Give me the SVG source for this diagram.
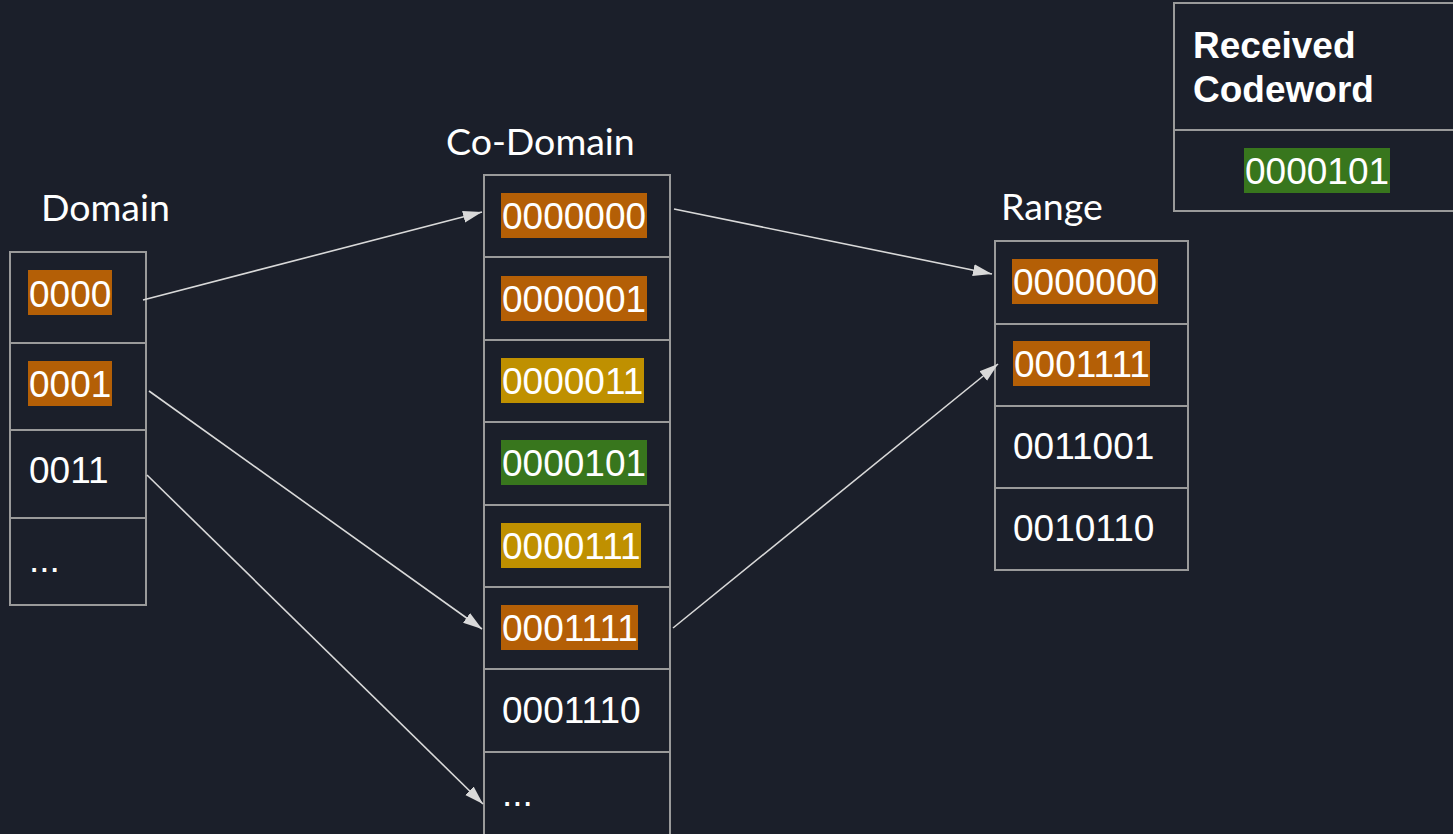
<svg xmlns="http://www.w3.org/2000/svg" width="1453" height="834" viewBox="0 0 1453 834">
<style>
.bg{fill:#1b1f2a}
.cell{fill:none;stroke:#9a9a9a;stroke-width:2}
.lbl{font-family:Lato,"Liberation Sans",sans-serif;font-size:37.5px;fill:#ffffff}
.val{font-family:"Liberation Sans",sans-serif;font-size:37px;fill:#ffffff}
.hd{font-family:"Liberation Sans",sans-serif;font-size:37px;font-weight:bold;fill:#ffffff}
.or{fill:#b45f06}
.gd{fill:#bf9000}
.gr{fill:#38761d}
.conn{stroke:#d9d9d9;stroke-width:1.6;fill:none;marker-end:url(#ah)}
</style>
<defs>
<marker id="ah" markerUnits="userSpaceOnUse" markerWidth="20" markerHeight="14" viewBox="0 0 20 14" refX="19" refY="7" orient="auto">
<path d="M0,1 L19,7 L0,13 Z" fill="#d9d9d9"/>
</marker>
</defs>
<rect class="bg" x="0" y="0" width="1453" height="834"/>

<g id="domain">
<text class="lbl" x="41" y="221">Domain</text>
<rect class="cell" x="10" y="252" width="136" height="353"/>
<line class="cell" x1="10" y1="343" x2="146" y2="343"/>
<line class="cell" x1="10" y1="430" x2="146" y2="430"/>
<line class="cell" x1="10" y1="518" x2="146" y2="518"/>
<rect class="or" x="28" y="270" width="84" height="45"/>
<text class="val" x="29" y="307">0000</text>
<rect class="or" x="28" y="361" width="84" height="45"/>
<text class="val" x="29" y="397">0001</text>
<text class="val" x="29" y="483">0011</text>
<text class="val" x="29" y="572">...</text>
</g>

<g id="codomain">
<text class="lbl" x="446" y="155">Co-Domain</text>
<rect class="cell" x="484" y="175" width="186" height="662"/>
<line class="cell" x1="484" y1="257" x2="670" y2="257"/>
<line class="cell" x1="484" y1="340" x2="670" y2="340"/>
<line class="cell" x1="484" y1="422" x2="670" y2="422"/>
<line class="cell" x1="484" y1="505" x2="670" y2="505"/>
<line class="cell" x1="484" y1="587" x2="670" y2="587"/>
<line class="cell" x1="484" y1="669" x2="670" y2="669"/>
<line class="cell" x1="484" y1="752" x2="670" y2="752"/>
<rect class="or" x="501" y="193" width="146" height="45"/>
<text class="val" x="502" y="229">0000000</text>
<rect class="or" x="501" y="276" width="146" height="45"/>
<text class="val" x="502" y="312">0000001</text>
<rect class="gd" x="501" y="358" width="143" height="45"/>
<text class="val" x="502" y="394">0000011</text>
<rect class="gr" x="501" y="440" width="146" height="45"/>
<text class="val" x="502" y="476">0000101</text>
<rect class="gd" x="501" y="523" width="140" height="45"/>
<text class="val" x="502" y="559">0000111</text>
<rect class="or" x="501" y="605" width="137" height="45"/>
<text class="val" x="502" y="641">0001111</text>
<text class="val" x="502" y="723">0001110</text>
<text class="val" x="502" y="806">...</text>
</g>

<g id="range">
<text class="lbl" x="1001" y="220">Range</text>
<rect class="cell" x="995" y="241" width="193" height="329"/>
<line class="cell" x1="995" y1="324" x2="1188" y2="324"/>
<line class="cell" x1="995" y1="406" x2="1188" y2="406"/>
<line class="cell" x1="995" y1="488" x2="1188" y2="488"/>
<rect class="or" x="1012" y="259" width="146" height="45"/>
<text class="val" x="1013" y="295">0000000</text>
<rect class="or" x="1013" y="341" width="137" height="45"/>
<text class="val" x="1014" y="377">0001111</text>
<text class="val" x="1013" y="459">0011001</text>
<text class="val" x="1013" y="541">0010110</text>
</g>

<g id="received">
<rect class="cell" x="1174" y="3" width="290" height="208"/>
<line class="cell" x1="1174" y1="130" x2="1460" y2="130"/>
<text class="hd" x="1193" y="58">Received</text>
<text class="hd" x="1193" y="102">Codeword</text>
<rect class="gr" x="1244" y="148" width="146" height="45"/>
<text class="val" x="1245" y="184">0000101</text>
</g>

<g id="connectors">
<line class="conn" x1="143" y1="300" x2="482" y2="212"/>
<line class="conn" x1="674" y1="209" x2="992" y2="274"/>
<line class="conn" x1="149" y1="391" x2="482" y2="629"/>
<line class="conn" x1="147" y1="475" x2="483" y2="804"/>
<line class="conn" x1="673" y1="628" x2="998" y2="364"/>
</g>
</svg>
